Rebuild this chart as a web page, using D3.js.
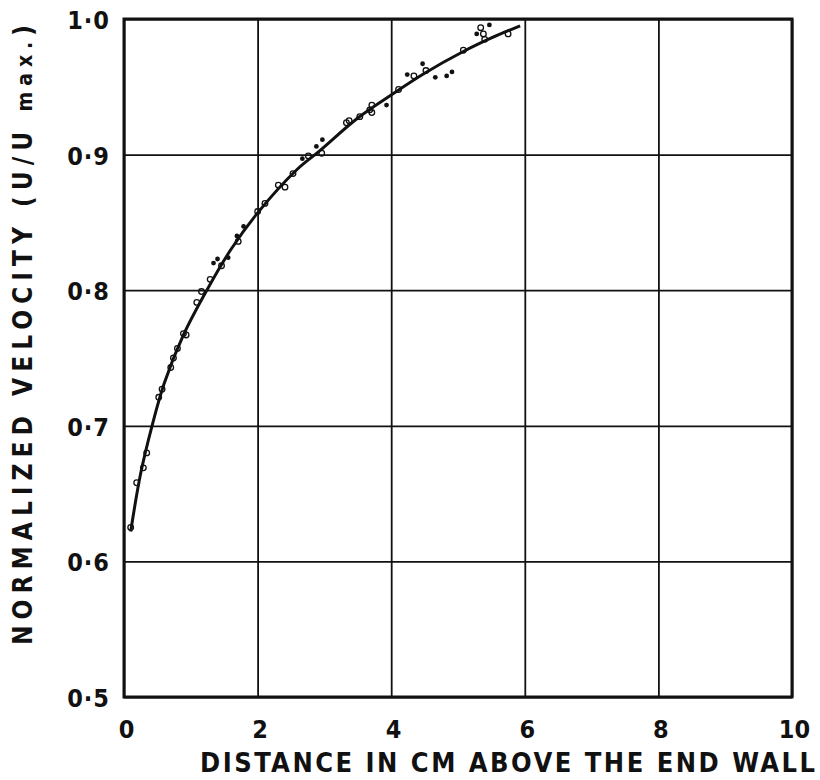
<!DOCTYPE html>
<meta charset="utf-8">
<style>
    body { margin: 0; background: #fff; }
    svg text { font-family: "DejaVu Sans Condensed", "DejaVu Sans", sans-serif; font-stretch: condensed; font-weight: bold; fill: #111; }
    .grid line { stroke: #111; stroke-width: 1.8px; }
    .grid .domain { display: none; }
</style>
<svg width="820" height="780"></svg>
<script src="https://cdn.jsdelivr.net/npm/d3@7"></script>
<script>

    // smooth fitted curve
    var curveX = [0.10, 0.25, 0.42, 0.60, 0.89, 1.24, 1.60, 2.00, 2.59, 2.91, 3.50, 4.00, 4.50, 5.08, 5.50, 5.93];
    var curveY = [0.622, 0.665, 0.700, 0.731, 0.767, 0.800, 0.830, 0.857, 0.889, 0.902, 0.927, 0.944, 0.960, 0.976, 0.986, 0.995];

    // measured points ("o" open marker, "d" dot)
    var ptX = [0.10, 0.19, 0.29, 0.34, 0.52, 0.57, 0.70, 0.74, 0.80, 0.89, 0.93,
               1.09, 1.16, 1.29, 1.34, 1.40, 1.46, 1.56, 1.69, 1.71, 1.79, 2.00, 2.11, 2.31, 2.41,
               2.53, 2.67, 2.76, 2.88, 2.97, 2.96, 3.33, 3.37, 3.53, 3.68, 3.71, 3.71, 3.93, 4.11,
               4.24, 4.34, 4.47, 4.52, 4.66, 4.83, 4.91, 5.08, 5.28, 5.34, 5.38, 5.47, 5.40, 5.75];
    var ptY = [0.625, 0.658, 0.669, 0.680, 0.721, 0.727, 0.743, 0.750, 0.757, 0.768, 0.767,
               0.791, 0.799, 0.808, 0.820, 0.823, 0.818, 0.824, 0.840, 0.836, 0.847, 0.858, 0.864, 0.8775, 0.876,
               0.886, 0.897, 0.899, 0.906, 0.911, 0.901, 0.9235, 0.925, 0.928, 0.933, 0.9365, 0.931, 0.9365, 0.948,
               0.959, 0.958, 0.967, 0.962, 0.957, 0.958, 0.961, 0.977, 0.989, 0.9936, 0.989, 0.9956, 0.985, 0.989];
    var ptMark = ["o", "o", "o", "o", "o", "o", "o", "o", "o", "o", "o",
                  "o", "o", "o", "d", "d", "o", "d", "d", "o", "d", "o", "o", "o", "o",
                  "o", "d", "o", "d", "d", "o", "o", "o", "o", "o", "o", "o", "d", "o",
                  "d", "o", "d", "o", "d", "d", "d", "o", "d", "o", "o", "d", "o", "o"];

    var xTicks = [0, 2, 4, 6, 8, 10];
    var yTicks = [0.5, 0.6, 0.7, 0.8, 0.9, 1.0];
    var xTitle = "DISTANCE IN CM ABOVE THE END WALL";

    draw();
    function draw() {
        var svg = d3.select("svg");
        var pLeft = 124, pRight = 792, pTop = 19, pBottom = 697;

        var x = d3.scaleLinear().domain([0, 10]).range([pLeft, pRight]);
        var y = d3.scaleLinear().domain([0.5, 1.0]).range([pBottom, pTop]);

        var fmt = function (d) { return d3.format(".1f")(d).replace(".", "\u00b7"); };

        // grid + tick labels
        var gx = svg.append("g")
                .attr("class", "grid")
                .attr("transform", "translate(0," + pBottom + ")")
                .call(d3.axisBottom(x).tickValues(xTicks).tickSize(-(pBottom - pTop)).tickPadding(23).tickFormat(d3.format("d")));
        gx.selectAll("text").style("font-size", "25px").attr("dx", "2");

        var gy = svg.append("g")
                .attr("class", "grid")
                .attr("transform", "translate(" + pLeft + ",0)")
                .call(d3.axisLeft(y).tickValues(yTicks).tickSize(-(pRight - pLeft)).tickPadding(14).tickFormat(fmt));
        gy.selectAll("text").style("font-size", "25px").attr("dy", "0.38em").style("letter-spacing", "1px");

        // frame
        svg.append("rect")
                .attr("x", pLeft).attr("y", pTop)
                .attr("width", pRight - pLeft).attr("height", pBottom - pTop)
                .attr("fill", "none")
                .attr("stroke", "#111")
                .attr("stroke-width", 3);

        // fitted curve
        var line = d3.line()
                .x(function (d) { return x(d[0]); })
                .y(function (d) { return y(d[1]); })
                .curve(d3.curveCatmullRom);
        svg.append("path")
                .datum(d3.zip(curveX, curveY))
                .attr("d", line)
                .attr("fill", "none")
                .attr("stroke", "#111")
                .attr("stroke-width", 3);

        // points
        var pts = d3.range(ptX.length).map(function (i) { return {x: ptX[i], y: ptY[i], m: ptMark[i]}; });
        svg.append("g")
                .selectAll("circle")
                .data(pts)
                .enter().append("circle")
                .attr("cx", function (d) { return x(d.x); })
                .attr("cy", function (d) { return y(d.y); })
                .attr("r", function (d) { return d.m == "d" ? 2.4 : 2.8; })
                .attr("fill", function (d) { return d.m == "d" ? "#111" : "none"; })
                .attr("stroke", "#111")
                .attr("stroke-width", function (d) { return d.m == "d" ? 0 : 1.3; });

        // axis titles
        svg.append("text")
                .attr("x", 200).attr("y", 772)
                .attr("textLength", 615)
                .attr("lengthAdjust", "spacing")
                .style("font-size", "27px")
                .text(xTitle);

        var yt = svg.append("text")
                .attr("transform", "translate(32,645) rotate(-90)")
                .attr("textLength", 620)
                .attr("lengthAdjust", "spacing")
                .style("font-size", "26px");
        yt.append("tspan").text("NORMALIZED VELOCITY (U/U ");
        yt.append("tspan").style("font-size", "21px").text("max.");
        yt.append("tspan").text(")");
    }
</script>
